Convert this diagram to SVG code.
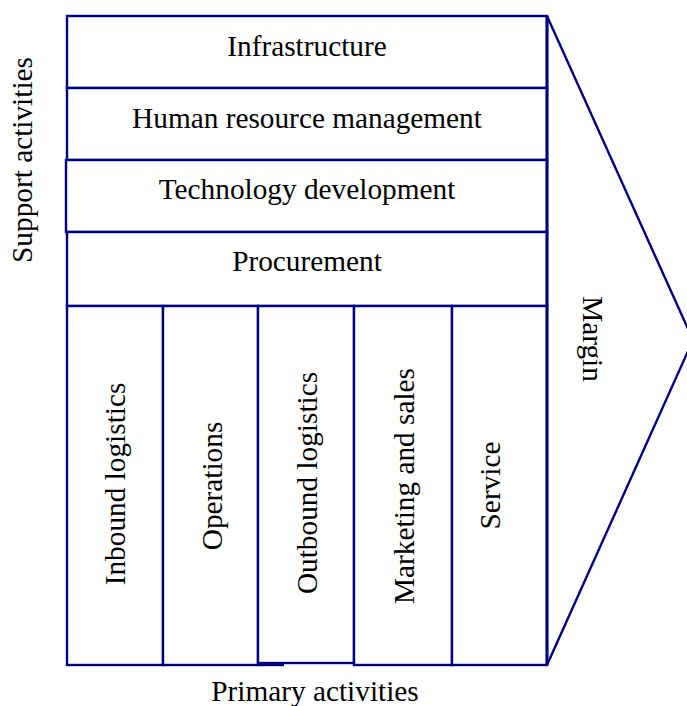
<svg xmlns="http://www.w3.org/2000/svg" width="687" height="706" viewBox="0 0 687 706">
<style>
.box{fill:#ffffff;stroke:#000080;stroke-width:2.4}
.ln{fill:none;stroke:#000080;stroke-width:2.4}
.t{font-family:"Liberation Serif","Times New Roman",serif;font-size:29.3px;fill:#000000}
.c{text-anchor:middle}
</style>
<rect width="687" height="706" fill="#ffffff"/>
<g id="margin">
<polyline class="ln" points="547,16 693,340 547,665"/>
<text class="t c" transform="translate(583,339) rotate(90)">Margin</text>
</g>
<g id="infrastructure">
<rect class="box" x="67" y="16" width="480" height="72"/>
<text class="t c" x="307" y="56">Infrastructure</text>
</g>
<g id="hrm">
<rect class="box" x="67" y="88" width="480" height="72"/>
<text class="t c" x="307" y="128">Human resource management</text>
</g>
<g id="technology">
<rect class="box" x="66" y="160" width="481" height="72"/>
<text class="t c" x="307" y="199">Technology development</text>
</g>
<g id="procurement">
<rect class="box" x="67" y="232" width="480" height="74"/>
<text class="t c" x="307" y="271">Procurement</text>
</g>
<g id="inbound">
<rect class="box" x="67" y="306" width="96" height="359"/>
<text class="t c" transform="translate(125,484) rotate(-90)">Inbound logistics</text>
</g>
<g id="operations">
<rect class="box" x="163" y="306" width="95" height="359"/>
<text class="t c" transform="translate(221.5,486) rotate(-90)">Operations</text>
</g>
<g id="outbound">
<rect class="box" x="258" y="306" width="96" height="357"/>
<line class="ln" x1="258" y1="665" x2="284" y2="665"/>
<text class="t c" transform="translate(316.5,483) rotate(-90)">Outbound logistics</text>
</g>
<g id="marketing">
<rect class="box" x="354" y="306" width="98" height="359"/>
<text class="t c" transform="translate(414,486) rotate(-90)">Marketing and sales</text>
</g>
<g id="service">
<rect class="box" x="452" y="306" width="95" height="359"/>
<text class="t c" transform="translate(499.5,485.5) rotate(-90)">Service</text>
</g>
<line class="ln" x1="547" y1="16" x2="547" y2="665" style="stroke-width:3"/>
<g id="support-label">
<text class="t c" transform="translate(32,160) rotate(-90)">Support activities</text>
</g>
<g id="primary-label">
<text class="t c" x="315" y="701">Primary activities</text>
</g>
</svg>
